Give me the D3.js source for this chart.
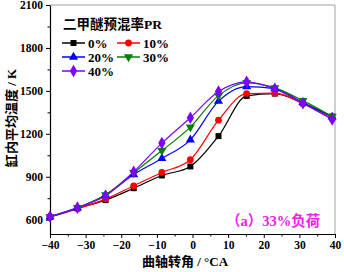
<!DOCTYPE html>
<html><head><meta charset="utf-8">
<script src="https://cdn.jsdelivr.net/npm/d3@7"></script>
<style>body{margin:0;background:#fff}svg{display:block}</style>
</head><body>
<script>
const crankAngles = [-40, -32.3, -24.4, -16.5, -8.6, -0.6, 7.3, 15.2, 23.1, 31, 39.2];
const seriesNames = ["0%", "10%", "20%", "30%", "40%"];
const temp0 = [619, 680, 737, 820, 909, 972, 1184, 1465, 1481, 1414, 1320];
const temp10 = [619, 676, 744, 837, 930, 1019, 1295, 1481, 1484, 1410, 1305];
const temp20 = [620, 682, 772, 915, 1028, 1158, 1428, 1530, 1516, 1418, 1318];
const temp30 = [621, 683, 774, 928, 1083, 1247, 1467, 1556, 1521, 1432, 1321];
const temp40 = [622, 684, 767, 935, 1135, 1312, 1495, 1563, 1514, 1414, 1300];
const xTicks = [-40, -30, -20, -10, 0, 10, 20, 30, 40];
const yTicks = [600, 900, 1200, 1500, 1800, 2100];
const colors = ["#000000", "#ff0000", "#0000ff", "#008000", "#8000ff"];
const symbols = [d3.symbolSquare, d3.symbolCircle, d3.symbolTriangle, d3.symbolTriangle, d3.symbolDiamond];
const allTemps = [temp0, temp10, temp20, temp30, temp40];

const W = 344, H = 272;
const m = {l: 50, r: 335, t: 5, b: 234};
const svg = d3.select("body").append("svg").attr("width", W).attr("height", H);
const x = d3.scaleLinear().domain([-40, 40]).range([m.l, m.r]);
const y = d3.scaleLinear().domain([500, 2100]).range([m.b, m.t]);
const tickFont = "'Liberation Serif', 'Times New Roman', serif";
const cjk = "'Noto Sans CJK SC', sans-serif";

// frame
svg.append("line").attr("x1", m.l).attr("x2", m.r).attr("y1", m.t).attr("y2", m.t).attr("stroke", "#a0a0a0");
svg.append("line").attr("x1", m.r).attr("x2", m.r).attr("y1", m.t).attr("y2", m.b).attr("stroke", "#a0a0a0");

// axes
svg.append("g").attr("transform", `translate(0,${m.b})`)
  .call(d3.axisBottom(x).tickValues(xTicks).tickFormat(d3.format("d")).tickSize(4).tickSizeOuter(0).tickPadding(3));
const xMinor = svg.append("g").attr("transform", `translate(0,${m.b})`)
  .call(d3.axisBottom(x).tickValues(d3.range(-35, 40, 10)).tickSize(2.5).tickFormat(""));
xMinor.select(".domain").remove();
svg.append("g").attr("transform", `translate(${m.l},0)`)
  .call(d3.axisLeft(y).tickValues(yTicks).tickFormat(d3.format("d")).tickSize(4).tickSizeOuter(0).tickPadding(3));
const yMinor = svg.append("g").attr("transform", `translate(${m.l},0)`)
  .call(d3.axisLeft(y).tickValues(d3.range(750, 2100, 300)).tickSize(2.5).tickFormat(""));
yMinor.select(".domain").remove();
svg.selectAll(".domain").attr("stroke", "#000").attr("stroke-width", 1.2);
svg.selectAll(".tick line").attr("stroke", "#000").attr("stroke-width", 1);
svg.selectAll(".tick text").attr("font-family", tickFont).attr("font-weight", "bold").attr("font-size", 11.5).attr("fill", "#000");

// lines
const line = d3.line().x((d, i) => x(crankAngles[i])).y(d => y(d)).curve(d3.curveMonotoneX);
allTemps.forEach((vals, k) => {
  svg.append("path").datum(vals).attr("d", line).attr("fill", "none")
    .attr("stroke", colors[k]).attr("stroke-width", 1.2);
});
allTemps.forEach((vals, k) => {
  const sym = d3.symbol().type(symbols[k]).size(k === 4 ? 46 : 36);
  svg.append("g").selectAll("path").data(vals).join("path")
    .attr("d", sym)
    .attr("transform", (d, i) => `translate(${x(crankAngles[i])},${y(d)})${k === 3 ? " rotate(180)" : ""}`)
    .attr("fill", colors[k]);
});

// legend
const lg = svg.append("g");
lg.append("text").attr("x", 63).attr("y", 29).text("二甲醚预混率")
  .attr("font-family", cjk).attr("font-weight", "bold").attr("font-size", 13.5)
  .append("tspan").attr("font-family", tickFont).text("PR");
const legPos = [[62, 43], [117, 43], [62, 57], [117, 57], [62, 71]];
seriesNames.forEach((n, k) => {
  const [lx, ly] = legPos[k];
  lg.append("line").attr("x1", lx).attr("x2", lx + 23).attr("y1", ly).attr("y2", ly)
    .attr("stroke", colors[k]).attr("stroke-width", 1.5);
  lg.append("path").attr("d", d3.symbol().type(symbols[k]).size(k === 4 ? 46 : 36)())
    .attr("transform", `translate(${lx + 11.5},${ly})${k === 3 ? " rotate(180)" : ""}`)
    .attr("fill", colors[k]);
  lg.append("text").attr("x", lx + 26).attr("y", ly + 4.5).text(n)
    .attr("font-family", tickFont).attr("font-weight", "bold").attr("font-size", 13);
});

// annotation
svg.append("text").attr("x", 226).attr("y", 226)
  .attr("font-weight", "bold").attr("font-size", 14.5).attr("fill", "#f020f0")
  .call(t => {
    t.append("tspan").attr("font-family", cjk).text("（");
    t.append("tspan").attr("font-family", tickFont).text("a");
    t.append("tspan").attr("font-family", cjk).text("）");
    t.append("tspan").attr("font-family", tickFont).text("33%");
    t.append("tspan").attr("font-family", cjk).text("负荷");
  });

// axis labels
svg.append("text").attr("x", 185).attr("y", 266).attr("text-anchor", "middle")
  .attr("font-weight", "bold").attr("font-size", 13)
  .call(t => {
    t.append("tspan").attr("font-family", cjk).text("曲轴转角");
    t.append("tspan").attr("font-family", tickFont).text(" / °CA");
  });
svg.append("text").attr("transform", `translate(16,118) rotate(-90)`)
  .attr("text-anchor", "middle").attr("font-weight", "bold").attr("font-size", 13)
  .call(t => {
    t.append("tspan").attr("font-family", cjk).text("缸内平均温度");
    t.append("tspan").attr("font-family", tickFont).text(" / K");
  });
</script>
</body></html>
